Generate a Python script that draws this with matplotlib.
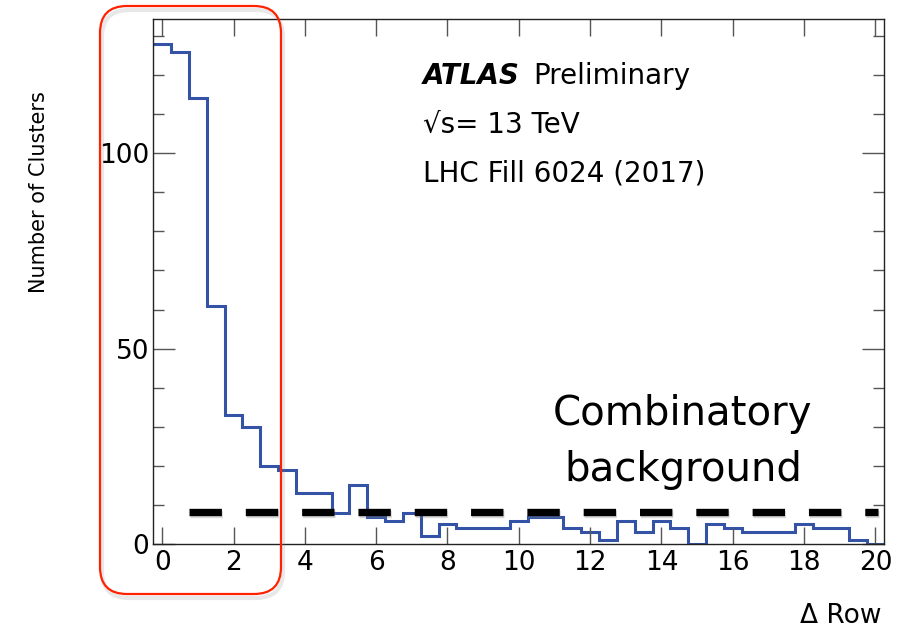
import numpy as np
import matplotlib
matplotlib.use("Agg")
import matplotlib.pyplot as plt
import matplotlib.patheffects as pe
from matplotlib.patches import FancyBboxPatch
from matplotlib.transforms import IdentityTransform
from matplotlib.ticker import MultipleLocator

# cluster counts per delta-row bin (bin width 0.5, centred on 0, 0.5, ... 20)
bin_width = 0.5
row_centres = np.arange(0, 20.5, bin_width)
cluster_counts = [128, 126, 114, 61, 33, 30, 20, 19, 13, 13,
                  8, 15, 7, 6, 8, 2, 5, 4, 4, 4,
                  6, 7, 7, 4, 3, 1, 6, 3, 6, 4,
                  0, 5, 4, 3, 3, 3, 5, 4, 4, 1, 0]

# flat combinatorial level and the range it is drawn over
bkg_level = 8.3
bkg_range = (0.75, 20.06)

x_ticks = np.arange(0, 21, 2)
y_ticks = [0, 50, 100]

plt.rcParams['font.family'] = ['DejaVu Sans']


def rounded_box(x, y, w, h, **kw):
    # box given in pixels, so the corners stay round
    return FancyBboxPatch((x, y), w, h, boxstyle="round,pad=0,rounding_size=27",
                          transform=IdentityTransform(), fill=False, **kw)


def plot_delta_row():
    fig = plt.figure(figsize=(8.99, 6.32), dpi=100)
    ax = fig.add_axes([0.1705, 0.1392, 0.8132, 0.8312])

    edges = np.append(row_centres - bin_width / 2, row_centres[-1] + bin_width / 2)
    ax.stairs(cluster_counts, edges, color="#3453a6", linewidth=2.2, baseline=None)

    ax.hlines(bkg_level, *bkg_range, colors="black", linewidth=5.3,
              linestyles=(0, (4.4, 3.25)), clip_on=False,
              path_effects=[pe.SimpleLineShadow(offset=(1, -2), shadow_color="gray", alpha=0.3),
                            pe.Normal()])

    ax.set_xlim(edges[0], edges[-1])
    ax.set_ylim(0, 1.05 * max(cluster_counts))
    ax.set_xticks(x_ticks)
    ax.set_xticklabels([str(t) for t in x_ticks])
    ax.set_yticks(y_ticks)
    ax.set_yticklabels([str(t) for t in y_ticks])
    ax.yaxis.set_minor_locator(MultipleLocator(10))

    ax.tick_params(axis="x", which="major", direction="in", length=12, width=1,
                   color="#555555", top=True, labelsize=19, pad=4)
    ax.tick_params(axis="y", which="major", direction="in", length=16, width=1,
                   color="#555555", right=True, labelsize=19, pad=3)
    ax.tick_params(axis="y", which="minor", direction="in", length=8, width=1,
                   color="#555555", right=True)
    for spine in ax.spines.values():
        spine.set_linewidth(1.0)
        spine.set_color("#222222")

    ax.set_ylabel("Number of Clusters", fontsize=15)
    ax.yaxis.set_label_coords(-0.143, 0.67)
    ax.set_xlabel("Δ Row", fontsize=19, loc="right")
    ax.xaxis.set_label_coords(0.9955, -0.112)

    ax.text(0.369, 0.8757, "ATLAS", transform=ax.transAxes, fontsize=20,
            fontweight="bold", fontstyle="italic", va="baseline")
    ax.text(0.5194, 0.8757, "Preliminary", transform=ax.transAxes, fontsize=20,
            va="baseline")
    ax.text(0.369, 0.782, "√s= 13 TeV", transform=ax.transAxes, fontsize=20,
            va="baseline")
    ax.text(0.369, 0.691, "LHC Fill 6024 (2017)", transform=ax.transAxes,
            fontsize=20, va="baseline")

    ax.text(0.7246, 0.2265, "Combinatory", transform=ax.transAxes, fontsize=29,
            ha="center", va="baseline")
    ax.text(0.7246, 0.1197, "background", transform=ax.transAxes, fontsize=29,
            ha="center", va="baseline")

    # rounded highlight around the small delta-row peak, with a soft shadow
    fig.patches.append(rounded_box(102, 34, 181, 588, edgecolor="gray",
                                   linewidth=3, alpha=0.18))
    fig.patches.append(rounded_box(100, 38, 181, 588, edgecolor="#ff2200",
                                   linewidth=1.6))

    fig.savefig("out.png", dpi=100)


def main():
    plot_delta_row()


if __name__ == "__main__":
    main()
